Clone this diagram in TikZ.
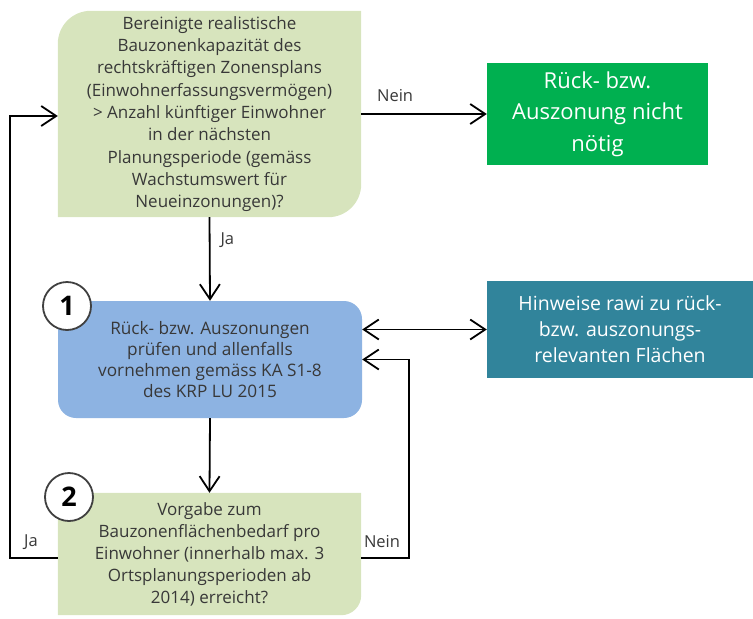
\documentclass[tikz,border=0pt]{standalone}
\usepackage{fontspec}
\setmainfont{Open Sans}
\usetikzlibrary{arrows.meta,backgrounds}
\definecolor{lightgreen}{HTML}{D7E4BD}
\definecolor{stepblue}{HTML}{8DB3E2}
\definecolor{okgreen}{HTML}{00B050}
\definecolor{teal}{HTML}{31849B}
\definecolor{txt}{HTML}{383838}
\definecolor{ring}{HTML}{404040}
\tikzset{
  box/.style={draw=none, align=center, inner sep=0pt, text=txt},
  flow/.style={line width=1.8pt, -{Straight Barb[length=15pt,width=20pt,line width=1.8pt]}},
  both/.style={line width=1.8pt, {Straight Barb[length=15pt,width=20pt,line width=1.8pt]}-{Straight Barb[length=15pt,width=20pt,line width=1.8pt]}},
  lbl/.style={text=txt, font=\fontsize{16.5}{18}\selectfont, inner sep=0pt},
  badge/.style={circle, draw=ring, line width=1.8pt, fill=white, minimum size=48pt, inner sep=0pt, font=\fontsize{27}{30}\selectfont\bfseries, text=black}
}
\begin{document}
\begin{tikzpicture}[x=1pt,y=-1pt]
\useasboundingbox (0,0) rectangle (753,619);

% question box
\node[box, minimum width=303pt, minimum height=206pt, font=\fontsize{17}{22.3}\selectfont] (q1) at (209.5,114)
  {Bereinigte realistische\\Bauzonenkapazität des\\rechtskräftigen Zonensplans\\(Einwohnerfassungsvermögen)\\> Anzahl künftiger Einwohner\\in der nächsten\\Planungsperiode (gemäss\\Wachstumswert für\\Neueinzonungen)?};

% outcome box
\node[box, fill=okgreen, text=white, minimum width=221pt, minimum height=102pt, font=\fontsize{22}{31.5}\selectfont] (done) at (597.5,114)
  {Rück- bzw.\\Auszonung nicht\\nötig};

% action box
\node[box, fill=stepblue, rounded corners=18pt, minimum width=304pt, minimum height=117pt, font=\fontsize{17.2}{21.3}\selectfont] (act) at (210,359.5)
  {Rück- bzw. Auszonungen\\prüfen und allenfalls\\vornehmen gemäss KA S1-8\\des KRP LU 2015};

% hints box
\node[box, fill=teal, text=white, minimum width=266pt, minimum height=97pt, font=\fontsize{19.5}{26}\selectfont] (hint) at (620,329.5)
  {Hinweise rawi zu rück-\\bzw. auszonungs-\\relevanten Flächen};

% check box
\node[box, minimum width=303pt, minimum height=122pt, font=\fontsize{17}{22}\selectfont] (chk) at (209.5,554)
  {Vorgabe zum\\Bauzonenflächenbedarf pro\\Einwohner (innerhalb max. 3\\Ortsplanungsperioden ab\\2014) erreicht?};

\begin{scope}[on background layer]
  \fill[lightgreen] (q1.south west) -- ([yshift=-33pt]q1.north west) to[out=90,in=180] ([xshift=33pt]q1.north west)
    -- (q1.north east) -- ([yshift=33pt]q1.south east) to[out=-90,in=0] ([xshift=-33pt]q1.south east) -- cycle;
  \fill[lightgreen] (chk.south west) -- ([yshift=-20pt]chk.north west) to[out=90,in=180] ([xshift=20pt]chk.north west)
    -- (chk.north east) -- ([yshift=20pt]chk.south east) to[out=-90,in=0] ([xshift=-20pt]chk.south east) -- cycle;
\end{scope}

% step badges
\node[badge] (b1) at (67,306) {1};
\node[badge] (b2) at (69,497) {2};

% loop corners
\coordinate (lx) at (10,0);
\coordinate (rx) at (409,0);

% connectors
\draw[flow] (q1.east) -- (q1.east -| done.west) node[lbl, pos=0.27, above=11pt] (n1) {Nein};
\draw[flow] (q1.south) -- (act.north) node[lbl, pos=0.28, right=10pt] (j1) {Ja};
\draw[flow] (act.south) -- (chk.north);
\draw[both] (hint.west -| act.east) -- (hint.west);
\draw[flow] ([yshift=-4pt]chk.west) -- ([yshift=-4pt]chk.west -| lx) |- ([yshift=-2pt]q1.west);
\draw[flow] ([yshift=-4pt]chk.east) -- ([yshift=-4pt]chk.east -| rx) |- (act.east);
\node[lbl] (j2) at (31,542) {Ja};
\node[lbl] (n2) at (382,542) {Nein};
\end{tikzpicture}
\end{document}
